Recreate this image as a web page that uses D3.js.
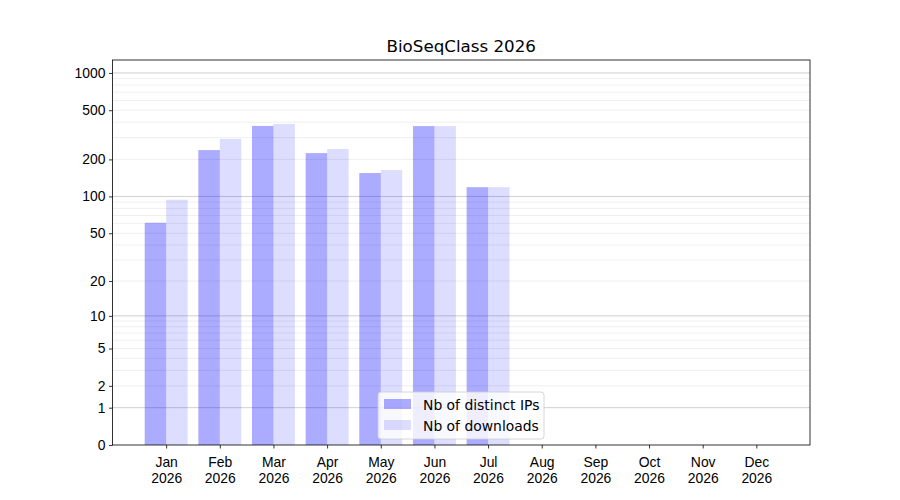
<!DOCTYPE html>
<html>
<head>
<meta charset="utf-8">
<script src="https://cdn.jsdelivr.net/npm/d3@7"></script>
<style>
  body { margin: 0; background: #fff; }
  svg { font-family: "DejaVu Sans", sans-serif; }
</style>
</head>
<body>
<svg width="900" height="500"></svg>
<script>
// Chart data
const months = ["Jan", "Feb", "Mar", "Apr", "May", "Jun", "Jul", "Aug", "Sep", "Oct", "Nov", "Dec"];
const year = "2026";
const distinctIPs = [61, 238, 373, 225, 155, 372, 119, 0, 0, 0, 0, 0];
const downloads = [94, 293, 387, 243, 164, 372, 119, 0, 0, 0, 0, 0];
const yTicks = [0, 1, 2, 5, 10, 20, 50, 100, 200, 500, 1000];
const majorGrid = [1, 10, 100, 1000];
const minorGrid = [2, 3, 4, 5, 6, 7, 8, 9, 20, 30, 40, 50, 60, 70, 80, 90, 200, 300, 400, 500, 600, 700, 800, 900];
const seriesNames = ["Nb of distinct IPs", "Nb of downloads"];

// Plot area, matplotlib-like
const plotL = 112.5, plotR = 810, plotT = 60, plotB = 445;
const fontSm = 13.9, fontTitle = 16.7;
const svg = d3.select("svg");

// log(1 + v) scale for y, linear index scale for x
const y = d3.scaleSymlog().constant(1).domain([0, 1272]).range([plotB, plotT]);
const x = d3.scaleLinear().domain([-1, 12]).range([plotL, plotR]);
const barW = 0.4;

// Grid lines
svg.append("g").selectAll("line").data(minorGrid).join("line")
    .attr("x1", plotL).attr("x2", plotR)
    .attr("y1", d => y(d)).attr("y2", d => y(d))
    .attr("stroke", "#ebebeb").attr("stroke-width", 0.8);
svg.append("g").selectAll("line").data(majorGrid).join("line")
    .attr("x1", plotL).attr("x2", plotR)
    .attr("y1", d => y(d)).attr("y2", d => y(d))
    .attr("stroke", "#c4c4c4").attr("stroke-width", 0.8);

// Bars
svg.append("g").selectAll("rect").data(distinctIPs).join("rect")
    .attr("x", (d, i) => x(i - barW))
    .attr("width", x(barW) - x(0))
    .attr("y", d => y(d))
    .attr("height", d => y(0) - y(d))
    .attr("fill", "blue").attr("fill-opacity", 0.33);
svg.append("g").selectAll("rect").data(downloads).join("rect")
    .attr("x", (d, i) => x(i))
    .attr("width", x(barW) - x(0))
    .attr("y", d => y(d))
    .attr("height", d => y(0) - y(d))
    .attr("fill", "blue").attr("fill-opacity", 0.135);

// Y axis
const yAxis = svg.append("g")
    .attr("transform", `translate(${plotL},0)`)
    .call(d3.axisLeft(y).tickValues(yTicks).tickFormat(d3.format("d")).tickSize(3.5).tickSizeOuter(0).tickPadding(3.5));
yAxis.select(".domain").remove();
yAxis.selectAll("text").attr("font-size", fontSm).attr("fill", "#000");
yAxis.selectAll("line").attr("stroke", "#000").attr("stroke-width", 0.8);

// X axis with two-line labels
const xAxis = svg.append("g")
    .attr("transform", `translate(0,${plotB})`)
    .call(d3.axisBottom(x).tickValues(d3.range(months.length)).tickFormat("").tickSize(3.5).tickSizeOuter(0));
xAxis.select(".domain").remove();
xAxis.selectAll("line").attr("stroke", "#000").attr("stroke-width", 0.8);
const xl = xAxis.selectAll(".tick").append("text")
    .attr("fill", "#000").attr("font-size", fontSm).attr("text-anchor", "middle");
xl.append("tspan").attr("x", 0).attr("y", 22).text(d => months[d]);
xl.append("tspan").attr("x", 0).attr("y", 38).text(year);

// Frame
svg.append("rect")
    .attr("x", plotL).attr("y", plotT)
    .attr("width", plotR - plotL).attr("height", plotB - plotT)
    .attr("fill", "none").attr("stroke", "#000").attr("stroke-width", 0.8);

// Title
svg.append("text")
    .attr("x", (plotL + plotR) / 2).attr("y", 52)
    .attr("text-anchor", "middle").attr("font-size", fontTitle)
    .text("BioSeqClass " + year);

// Legend, lower center
const lg = svg.append("g").attr("transform", `translate(378,392)`);
lg.append("rect")
    .attr("width", 166).attr("height", 47).attr("rx", 3)
    .attr("fill", "#fff").attr("fill-opacity", 0.8)
    .attr("stroke", "#cccccc").attr("stroke-width", 0.8);
const items = lg.selectAll("g.item").data(seriesNames).join("g")
    .attr("class", "item")
    .attr("transform", (d, i) => `translate(6,${7 + i * 21})`);
items.append("rect")
    .attr("width", 27).attr("height", 10)
    .attr("fill", "blue").attr("fill-opacity", (d, i) => i === 0 ? 0.33 : 0.135);
items.append("text")
    .attr("x", 39).attr("y", 10.5)
    .attr("font-size", fontSm).attr("fill", "#000")
    .text(d => d);
</script>
</body>
</html>
